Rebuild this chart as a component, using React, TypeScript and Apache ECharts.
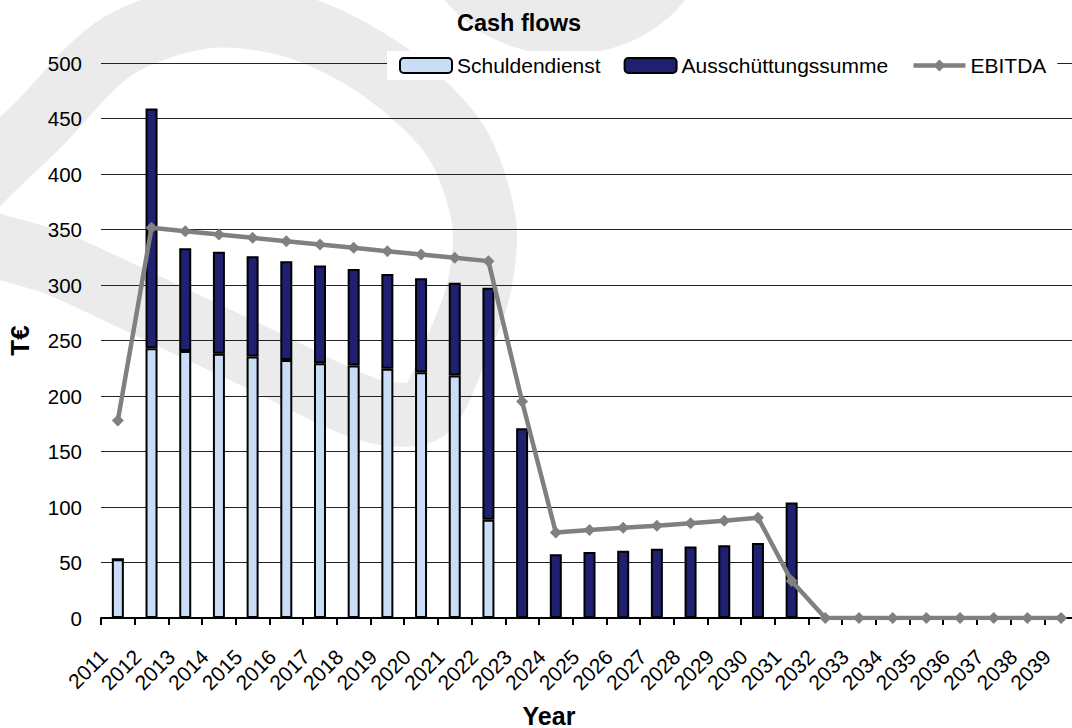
import React, { useEffect, useRef } from "react";
import * as echarts from "echarts";

const years = [
  "2011", "2012", "2013", "2014", "2015", "2016", "2017", "2018", "2019", "2020",
  "2021", "2022", "2023", "2024", "2025", "2026", "2027", "2028", "2029", "2030",
  "2031", "2032", "2033", "2034", "2035", "2036", "2037", "2038", "2039",
];

const schuldendienst = [
  53, 243, 240.5, 238, 235.5, 232.5, 229.5, 227.5, 224.5, 221.5,
  218.5, 88.5, 0, 0, 0, 0, 0, 0, 0, 0,
  0, 0, 0, 0, 0, 0, 0, 0, 0,
];

const ausschuettung = [
  0, 216, 92.5, 92, 90.5, 89, 88, 87, 85.5, 84.5,
  83.5, 209, 171, 57.5, 59.5, 60.5, 62.5, 64.5, 65.5, 67.5,
  104, 0, 0, 0, 0, 0, 0, 0, 0,
];

const ebitda = [
  178, 351.5, 348.5, 345.5, 342.5, 339.5, 336.5, 333.5, 330.5, 327.5,
  324.5, 321.5, 195, 77, 79.3, 81.4, 83.2, 85.3, 87.7, 90.4,
  33.3, 0, 0, 0, 0, 0, 0, 0, 0,
];

const yTicks = { min: 0, max: 500, interval: 50 };

const FONT = "'Liberation Sans', Arial, Helvetica, sans-serif";
const WM = "#ebebeb";

export default function App() {
  const ref = useRef<HTMLDivElement>(null);

  useEffect(() => {
    const chart = echarts.init(ref.current!, null, { renderer: "svg" });
    const option: any = {
      animation: false,
      backgroundColor: "#ffffff",
      textStyle: { fontFamily: FONT },
      title: {
        text: "Cash flows",
        left: 452,
        top: 6,
        textStyle: { fontSize: 23.5, fontWeight: "bold", color: "#000", fontFamily: FONT },
      },
      legend: {
        data: [
          "Schuldendienst",
          "Ausschüttungssumme",
          { name: "EBITDA", lineStyle: { width: 4.5, color: "#808080" }, itemStyle: { color: "#808080" } },
        ],
        left: 387,
        top: 51,
        padding: [4, 11, 4, 12],
        backgroundColor: "#ffffff",
        itemWidth: 52,
        itemHeight: 15,
        itemGap: 23,
        textStyle: { fontSize: 21, color: "#000", fontFamily: FONT },
      },
      graphic: [
        {
          type: "polygon",
          z: -10,
          silent: true,
          shape: {
            points: [
              [-45, 222], [45, 118], [118, 46], [210, 16], [300, 28], [385, 72],
              [455, 140], [484, 222], [478, 292], [455, 352], [425, 410],
              [370, 410], [260, 359], [150, 307], [60, 265],
            ],
            smooth: 0.3,
          },
          style: { fill: "none", stroke: WM, lineWidth: 64 },
        },
        {
          type: "ellipse",
          z: -10,
          silent: true,
          shape: { cx: 565, cy: -70, rx: 145, ry: 125 },
          style: { fill: WM },
        },
      ],
      grid: {
        left: 101,
        right: -6,
        top: 63,
        bottom: 110,
        containLabel: false,
        outerBoundsMode: "none",
      },
      xAxis: {
        type: "category",
        data: years,
        name: "Year",
        nameLocation: "middle",
        nameGap: 85,
        nameMoveOverlap: false,
        nameTextStyle: {
          fontSize: 25,
          fontWeight: "bold",
          color: "#000",
          fontFamily: FONT,
          padding: [0, 81, 0, 0],
        },
        axisLine: { show: true, lineStyle: { color: "#000", width: 2 } },
        axisTick: { show: true, length: 7, interval: 0, lineStyle: { color: "#000", width: 2 } },
        axisLabel: {
          interval: 0,
          rotate: 45,
          margin: 21,
          fontSize: 21,
          color: "#000",
          fontFamily: FONT,
          formatter: (v: string) => v + "{s| }",
          rich: { s: { width: 20 } },
        },
      },
      yAxis: {
        type: "value",
        min: yTicks.min,
        max: yTicks.max,
        interval: yTicks.interval,
        name: "T€",
        nameLocation: "middle",
        nameGap: 68,
        nameMoveOverlap: false,
        nameTextStyle: { fontSize: 26, fontWeight: "bold", color: "#000", fontFamily: FONT },
        axisLine: { show: false },
        axisTick: { show: false },
        axisLabel: { margin: 19, fontSize: 20.5, color: "#000", fontFamily: FONT },
        splitLine: { show: true, lineStyle: { color: "#222", width: 1 } },
      },
      series: [
        {
          name: "Schuldendienst",
          type: "bar",
          stack: "cf",
          barWidth: 12,
          data: schuldendienst,
          itemStyle: { color: "#C9DDF7", borderColor: "#000", borderWidth: 2 },
        },
        {
          name: "Ausschüttungssumme",
          type: "bar",
          stack: "cf",
          barWidth: 12,
          data: ausschuettung,
          itemStyle: { color: "#202070", borderColor: "#000", borderWidth: 2 },
        },
        {
          name: "EBITDA",
          type: "line",
          data: ebitda,
          symbol: "diamond",
          symbolSize: 12,
          z: 4,
          lineStyle: { color: "#808080", width: 4.5 },
          itemStyle: { color: "#808080" },
        },
      ],
    };
    chart.setOption(option);
    return () => chart.dispose();
  }, []);

  return (
    <div
      ref={ref}
      style={{ position: "absolute", left: 0, top: 0, width: 1072, height: 728 }}
    />
  );
}
